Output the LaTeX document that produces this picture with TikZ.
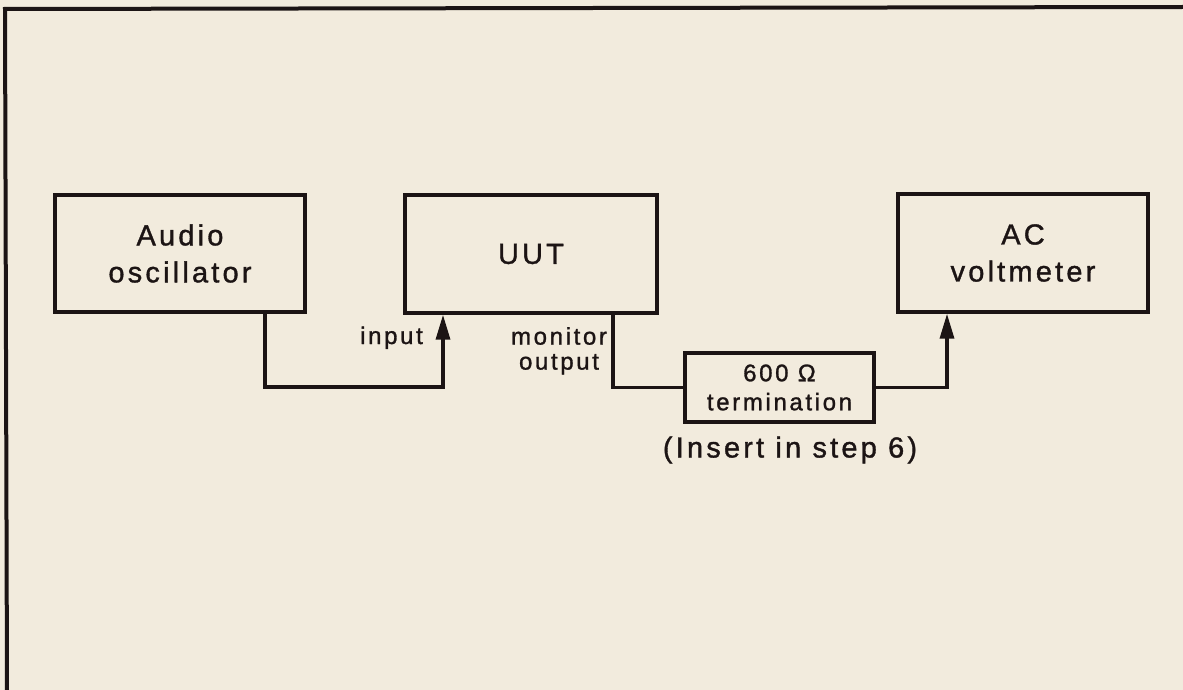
\documentclass[tikz,border=0pt]{standalone}
\usepackage{fontspec}
\setmainfont{Liberation Sans}[LetterSpace=11, FakeBold=1.2]
\usetikzlibrary{arrows.meta}
\definecolor{paper}{HTML}{F2EBDD}
\definecolor{ink}{HTML}{1C1414}
\tikzset{
  unitbox/.style={draw=ink, line width=3.4pt, rectangle, align=center, text=ink,
    font=\fontsize{29}{37}\selectfont, inner sep=0pt},
  small/.style={text=ink, font=\fontsize{24}{25}\selectfont, inner sep=0pt},
  conn/.style={draw=ink, line width=3.4pt},
  arr/.style={conn, -{Triangle[length=25pt,width=14pt]}},
  frame/.style={draw=ink, line width=4pt}
}
\begin{document}
\begin{tikzpicture}[x=1pt,y=-1pt]
\fill[paper] (0,0) rectangle (1183,690);
\useasboundingbox (0,0) rectangle (1183,690);
\draw[frame] (7,690) -- (5,9) -- (1183,7);

\node[unitbox, minimum width=250pt, minimum height=117pt] (osc) at (180,253.5) {Audio\\oscillator};
\node[unitbox, minimum width=252pt, minimum height=118pt] (uut) at (531,254) {UUT};
\node[unitbox, minimum width=250pt, minimum height=118pt] (acv) at (1023,253) {AC\\voltmeter};
\node[unitbox, minimum width=189pt, minimum height=69pt, font=\fontsize{24}{29}\selectfont] (term) at (779.5,387.5) {600 Ω\\termination};

\coordinate (c1) at (265,387);
\coordinate (c2) at (443,387);
\coordinate (c3) at (613,387);
\coordinate (c4) at (947,387);

\draw[arr] (osc.south -| c1) -- (c1) -- (c2) -- (uut.south -| c2);
\draw[conn] (uut.south -| c3) |- (term.west);
\draw[arr] (term.east) -| (acv.south -| c4);

\node[small, anchor=base east] (lin) at (423,344) {input};
\node[small, align=center, anchor=north] (lmon) at (559,327) {monitor\\output};
\node[text=ink, font=\fontsize{29}{30}\selectfont, inner sep=0pt] (lins) at (790,450) {(Insert in step 6)};
\end{tikzpicture}
\end{document}
